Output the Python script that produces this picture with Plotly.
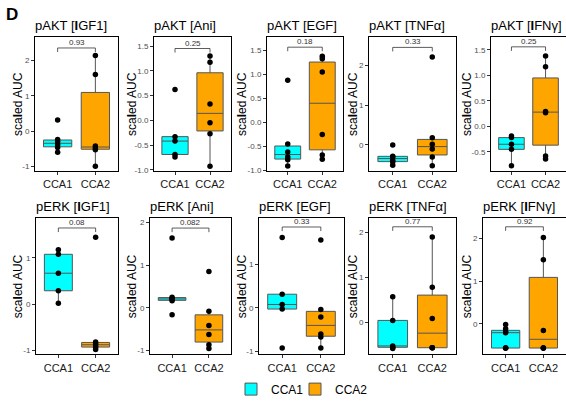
import numpy as np
import plotly.graph_objects as go

# ---------------- data ----------------
categories = ["CCA1", "CCA2"]
panel_titles = ["pAKT [<b>I</b>GF1]", "pAKT [Ani]", "pAKT [EGF]", "pAKT [TNFα]", "pAKT [<b>I</b>FNγ]",
                "pERK [<b>I</b>GF1]", "pERK [Ani]", "pERK [EGF]", "pERK [TNFα]", "pERK [<b>I</b>FNγ]"]

cca1_values = [
    [0.32, -0.23, -0.30, -0.38, -0.46, -0.59],
    [0.62, -0.33, -0.42, -0.69, -0.74],
    [0.88, -0.45, -0.62, -0.72, -0.78, -0.91],
    [0.0, -0.28, -0.30, -0.38, -0.43, -0.51],
    [-0.19, -0.22, -0.35, -0.45, -0.77],
    [1.18, 1.08, 0.67, 0.29, 0.02],
    [1.64, 0.25, 0.22, 0.20, 0.17, -0.16],
    [1.61, 0.31, 0.075, -0.03, -0.92],
    [0.57, 0.04, -0.53, -0.56, -0.585],
    [-0.02, -0.12, -0.19, -0.21, -0.57, -0.57, -0.57],
]
cca2_values = [
    [2.14, 1.60, -0.42, -0.47, -0.52, -0.99],
    [1.30, 1.17, 0.33, -0.05, -0.27, -0.93],
    [1.38, 1.33, 1.05, -0.25, -0.68, -0.77],
    [2.21, 0.18, 0.02, -0.10, -0.30, -0.52],
    [1.38, 1.17, 0.29, 0.27, -0.58, -0.64],
    [1.45, -0.82, -0.86, -0.90, -0.94, -0.98],
    [0.85, -0.08, -0.41, -0.62, -0.86, -0.95],
    [1.55, -0.04, -0.21, -0.60, -0.67, -0.92],
    [1.90, 0.78, 0.08, -0.57, -0.57, -0.57],
    [2.02, 1.50, -0.16, -0.57, -0.57, -0.57],
]
p_labels = ["0.93", "0.25", "0.18", "0.33", "0.25", "0.08", "0.082", "0.33", "0.77", "0.92"]
bracket_y = [2.35, 1.45, 1.57, 2.45, 1.56, 1.65, 1.87, 1.85, 2.13, 2.27]

y_ranges = [[-1.13, 2.67], [-1.03, 1.69], [-1.02, 1.79], [-0.66, 2.72], [-0.88, 1.76],
            [-1.09, 1.87], [-1.09, 2.11], [-1.07, 2.06], [-0.72, 2.33], [-0.72, 2.48]]
y_ticks = [[-1, 0, 1, 2], [-1.0, -0.5, 0.0, 0.5, 1.0, 1.5], [-1.0, -0.5, 0.0, 0.5, 1.0, 1.5],
           [0, 1, 2], [-0.5, 0.0, 0.5, 1.0, 1.5],
           [-1, 0, 1], [-1, 0, 1, 2], [-1, 0, 1], [0, 1, 2], [0, 1, 2]]
y_tick_decimals = [0, 1, 1, 0, 1, 0, 0, 0, 0, 0]

# ---------------- layout geometry (pixels) ----------------
W, H = 566, 404
top_x = [(35, 118), (154, 231), (267, 343), (369, 456), (491, 566)]
bot_x = [(36, 118), (150, 231), (259, 344), (369, 456), (483, 566)]
row_y = [(37, 173), (220, 358)]
ytitle_x = [18, 132, 242, 353, 467]
legend_x = {"CCA1": 231, "CCA2": 295}
legend_ref = {"CCA1": "legend", "CCA2": "legend2"}
colors = {"CCA1": "#00FFFF", "CCA2": "#FFA500"}
FONT = "Liberation Sans, Arial, Helvetica, sans-serif"


def box_stats(v):
    v = np.asarray(v, dtype=float)
    q1, med, q3 = np.quantile(v, [0.25, 0.5, 0.75])
    iqr = q3 - q1
    lo = v[v >= q1 - 1.5 * iqr].min()
    hi = v[v <= q3 + 1.5 * iqr].max()
    return q1, med, q3, lo, hi


fig = go.Figure()
annotations = []

for i in range(10):
    row, col = divmod(i, 5)
    xs = (top_x if row == 0 else bot_x)[col]
    ys = row_y[row]
    xa = "x" if i == 0 else f"x{i+1}"
    ya = "y" if i == 0 else f"y{i+1}"
    xkey = "xaxis" if i == 0 else f"xaxis{i+1}"
    ykey = "yaxis" if i == 0 else f"yaxis{i+1}"

    for cat, vals in zip(categories, [cca1_values[i], cca2_values[i]]):
        q1, med, q3, lo, hi = box_stats(vals)
        fig.add_trace(go.Box(
            x=[cat], q1=[q1], median=[med], q3=[q3], lowerfence=[lo], upperfence=[hi],
            fillcolor=colors[cat], line=dict(color="#555555", width=1),
            whiskerwidth=0, width=0.75, boxpoints=False,
            name=cat, legendgroup=cat, showlegend=(i == 0), legend=legend_ref[cat],
            hoverinfo="skip", xaxis=xa, yaxis=ya))
        fig.add_trace(go.Scatter(
            x=[cat] * len(vals), y=vals, mode="markers",
            marker=dict(color="black", size=5.5), showlegend=False,
            hoverinfo="skip", xaxis=xa, yaxis=ya))

    # significance bracket
    span = y_ranges[i][1] - y_ranges[i][0]
    d = 0.03 * span
    b = bracket_y[i]
    fig.add_trace(go.Scatter(
        x=[categories[0], categories[0], categories[1], categories[1]],
        y=[b - d, b, b, b - d], mode="lines",
        line=dict(color="#333333", width=0.8), showlegend=False,
        hoverinfo="skip", xaxis=xa, yaxis=ya))
    annotations.append(dict(x=0.5, y=b, xref=xa, yref=ya, text=p_labels[i],
                            showarrow=False, yanchor="bottom", xanchor="center",
                            font=dict(size=8, color="#333333", family=FONT), yshift=-1))

    dec = y_tick_decimals[i]
    ticktext = [f"{t:.{dec}f}" for t in y_ticks[i]]

    fig.layout[xkey] = dict(
        domain=[xs[0] / W, xs[1] / W], anchor=ya, type="category",
        categoryorder="array", categoryarray=categories, range=[-0.6, 1.6],
        showline=True, mirror=True, linecolor="black", linewidth=1,
        ticks="outside", ticklen=3, tickcolor="#333333", tickwidth=1,
        tickfont=dict(size=11, color="#1a1a1a", family=FONT),
        showgrid=False, zeroline=False, fixedrange=True)
    fig.layout[ykey] = dict(
        domain=[1 - ys[1] / H, 1 - ys[0] / H], anchor=xa, range=y_ranges[i],
        tickvals=y_ticks[i], ticktext=ticktext,
        showline=True, mirror=(col != 4), linecolor="black", linewidth=1,
        ticks="outside", ticklen=3, tickcolor="#333333", tickwidth=1,
        tickfont=dict(size=8, color="#4d4d4d", family=FONT),
        showgrid=False, zeroline=False, fixedrange=True)

    # panel title
    annotations.append(dict(x=xs[0] / W, y=1 - (ys[0] - 2) / H, xref="paper", yref="paper",
                            text=panel_titles[i], showarrow=False, xanchor="left",
                            yanchor="bottom", xshift=-2,
                            font=dict(size=13, color="black", family=FONT)))
    # y-axis title
    annotations.append(dict(x=ytitle_x[col] / W, y=1 - (ys[0] + ys[1]) / 2 / H,
                            xref="paper", yref="paper", text="sca<b>l</b>ed AUC",
                            showarrow=False, textangle=-90, xanchor="center",
                            yanchor="middle", font=dict(size=12, color="black", family=FONT)))

annotations.append(dict(x=4 / W, y=1 - 3 / H, xref="paper", yref="paper", text="<b>D</b>",
                        showarrow=False, xanchor="left", yanchor="top",
                        font=dict(size=17, color="black", family=FONT)))

legend_style = dict(orientation="h", xanchor="left", y=1 - 393 / H, yanchor="middle",
                    font=dict(size=12, color="black", family=FONT),
                    bgcolor="rgba(0,0,0,0)")

fig.update_layout(
    width=W, height=H, margin=dict(l=0, r=0, t=0, b=0),
    paper_bgcolor="white", plot_bgcolor="white",
    boxmode="overlay", annotations=annotations,
    font=dict(family=FONT),
    legend=dict(x=legend_x["CCA1"] / W, **legend_style),
    legend2=dict(x=legend_x["CCA2"] / W, **legend_style),
)

fig.write_html("out.html",
               config={"displayModeBar": False, "staticPlot": True},
               post_script="document.body.style.margin='0px';document.body.style.padding='0px';")
